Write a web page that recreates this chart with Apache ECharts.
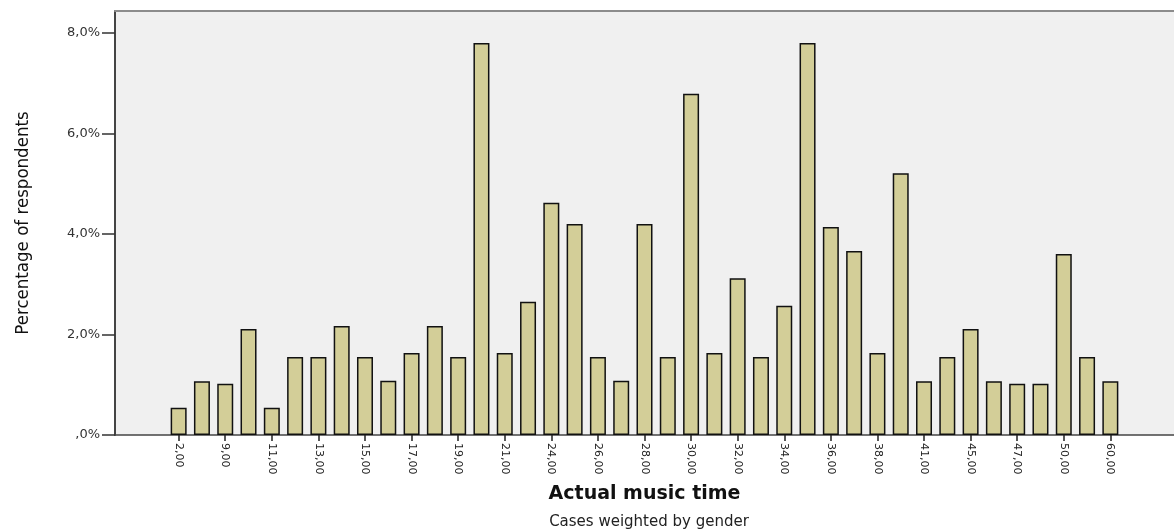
<!DOCTYPE html>
<html><head><meta charset="utf-8">
<script src="https://cdn.jsdelivr.net/npm/echarts@6/dist/echarts.min.js"></script>
<style>html,body{margin:0;padding:0;background:#fff}#c{width:1174px;height:532px}</style>
</head><body><div id="c"></div>
<script>
const categories = ['2,00','5,00','9,00','10,00','11,00','12,00','13,00','14,00','15,00','16,00','17,00','18,00','19,00','20,00','21,00','22,00','24,00','25,00','26,00','27,00','28,00','29,00','30,00','31,00','32,00','33,00','34,00','35,00','36,00','37,00','38,00','40,00','41,00','42,00','45,00','46,00','47,00','48,00','50,00','55,00','60,00'];
const percentages = [0.54,1.07,1.02,2.11,0.54,1.55,1.55,2.17,1.55,1.08,1.63,2.17,1.55,7.8,1.63,2.65,4.62,4.2,1.55,1.08,4.2,1.55,6.79,1.63,3.12,1.55,2.57,7.8,4.14,3.66,1.63,5.21,1.07,1.55,2.11,1.07,1.02,1.02,3.6,1.55,1.07];
const yTickLabels = [',0%','2,0%','4,0%','6,0%','8,0%'];
const xTitle = 'Actual music time';
const yTitle = 'Percentage of respondents';
const footnote = 'Cases weighted by gender';

const chart = echarts.init(document.getElementById('c'), null, {renderer:'canvas'});
const option = {
  animation: false,
  backgroundColor: '#ffffff',
  title: {text: footnote, left: 644, top: 510, textAlign: 'center',
    textStyle: {fontFamily: 'DejaVu Sans', fontSize: 15, fontWeight: 'normal', color: '#222'}},
  grid: [
    {left: 167, right: 52, top: 33, bottom: 97},
    {left: 115, right: 0, top: 11, bottom: 97, show: true, backgroundColor: '#f0f0f0', borderWidth: 0, z: 0}
  ],
  xAxis: [
    {gridIndex: 0, type: 'category', data: categories,
      axisLine: {show: false},
      axisTick: {show: true, alignWithLabel: true, interval: 1, length: 6, lineStyle: {color: '#222', width: 1.5}},
      axisLabel: {interval: 1, rotate: -90, margin: 8, fontFamily: 'DejaVu Sans', fontSize: 11, color: '#222'},
      splitLine: {show: false}},
    {gridIndex: 1, type: 'value', min: 0, max: 1,
      axisLine: {show: true, onZero: false, lineStyle: {color: '#444', width: 1.5}},
      axisTick: {show: false}, axisLabel: {show: false}, splitLine: {show: false},
      name: xTitle, nameLocation: 'middle', nameGap: 50,
      nameTextStyle: {fontFamily: 'DejaVu Sans', fontWeight: 'bold', fontSize: 19, color: '#111'}},
    {gridIndex: 1, type: 'value', position: 'top', min: 0, max: 1,
      axisLine: {show: true, onZero: false, lineStyle: {color: '#8c8c8c', width: 2}},
      axisTick: {show: false}, axisLabel: {show: false}, splitLine: {show: false}}
  ],
  yAxis: [
    {gridIndex: 0, type: 'value', min: 0, max: 8, interval: 2, offset: 52,
      axisLine: {show: false},
      axisTick: {show: true, length: 13, lineStyle: {color: '#333', width: 1.5}},
      axisLabel: {margin: 15, formatter: (v) => yTickLabels[Math.round(v / 2)], fontFamily: 'DejaVu Sans', fontSize: 13, color: '#333'},
      splitLine: {show: false}},
    {gridIndex: 1, type: 'value', min: 0, max: 1,
      axisLine: {show: true, onZero: false, lineStyle: {color: '#444', width: 2}},
      axisTick: {show: false}, axisLabel: {show: false}, splitLine: {show: false},
      name: yTitle, nameLocation: 'middle', nameGap: 82,
      nameTextStyle: {fontFamily: "'DejaVu Sans Condensed','Liberation Sans Narrow','DejaVu Sans',sans-serif", fontSize: 18.5, color: '#111'}}
  ],
  series: [{type: 'bar', xAxisIndex: 0, yAxisIndex: 0, data: percentages, barWidth: 16,
    itemStyle: {color: '#d3ce98', borderColor: '#111', borderWidth: 1.5}, z: 5}]
};
chart.setOption(option);
</script>
</body></html>
